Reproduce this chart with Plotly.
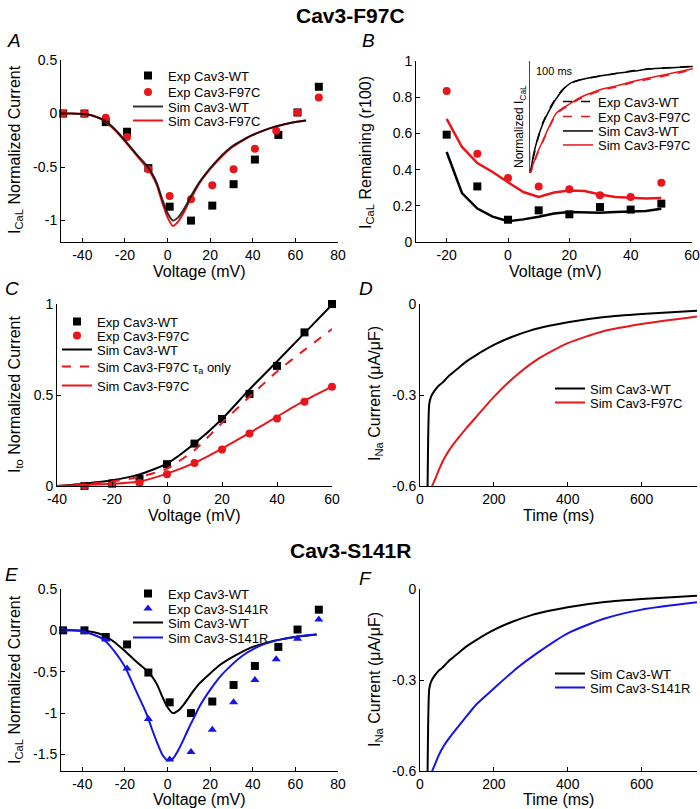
import plotly.graph_objects as go

W, H = 700, 809
FONT = "Liberation Sans, Arial, sans-serif"
RED = "#e8161b"
BLUE = "#1414e6"
BLACK = "#000000"

# ---------------- Panel A data ----------------
A_exp_v = [-49, -39, -29, -19, -9, 1, 11, 21, 31, 41, 52, 61, 71]
A_exp_wt = [0.0, 0.0, -0.08, -0.17, -0.51, -0.87, -1.0, -0.86, -0.66, -0.43, -0.20, 0.01, 0.25]
A_exp_f97c_v = [-49, -39, -29, -19, -9, 1, 11, 21, 31, 41, 51, 61, 71]
A_exp_f97c = [0.0, 0.0, -0.04, -0.22, -0.52, -0.77, -0.80, -0.67, -0.52, -0.33, -0.16, 0.01, 0.15]
A_sim_v = [-50, -45, -40, -35, -30, -25, -20, -15, -10, -7.5, -5, -2.5, 0, 2.5, 5, 7.5, 10, 12.5,
           15, 20, 25, 30, 35, 40, 45, 50, 55, 60, 65]
A_sim_wt = [0, 0, -0.005, -0.02, -0.06, -0.14, -0.25, -0.37, -0.48, -0.55, -0.65, -0.8, -0.93, -1.0,
            -0.97, -0.9, -0.81, -0.72, -0.64, -0.51, -0.4, -0.31, -0.25, -0.2, -0.16, -0.125, -0.1,
            -0.08, -0.065]
A_sim_f97c = [0, 0, -0.005, -0.02, -0.065, -0.15, -0.26, -0.38, -0.5, -0.57, -0.67, -0.83, -0.97,
              -1.05, -1.01, -0.93, -0.83, -0.74, -0.65, -0.52, -0.41, -0.32, -0.255, -0.2, -0.16,
              -0.125, -0.1, -0.08, -0.065]

# ---------------- Panel B data ----------------
B_v = [-20, -10, 0, 10, 20, 30, 40, 50]
B_exp_wt = [0.593, 0.307, 0.123, 0.175, 0.153, 0.193, 0.179, 0.212]
B_exp_f97c = [0.834, 0.488, 0.354, 0.307, 0.291, 0.258, 0.249, 0.328]
B_sim_v = [-20, -15, -10, -5, 0, 5, 10, 15, 20, 25, 30, 35, 40, 45, 50]
B_sim_wt = [0.497, 0.27, 0.185, 0.14, 0.115, 0.125, 0.14, 0.157, 0.166, 0.162, 0.162, 0.166,
            0.168, 0.171, 0.184]
B_sim_f97c = [0.68, 0.525, 0.436, 0.387, 0.33, 0.276, 0.249, 0.273, 0.285, 0.282, 0.263, 0.249,
              0.245, 0.241, 0.243]

# inset (normalized I_CaL traces)
INS_t = [0, 3, 10, 20, 33, 50, 64, 80, 98, 120, 145, 175, 210, 250, 288, 340, 390]
INS_sim_wt = [0, -1.0, -0.85, -0.70, -0.56, -0.43, -0.34, -0.26, -0.20, -0.17, -0.15, -0.13,
              -0.11, -0.09, -0.07, -0.06, -0.05]
INS_exp_wt = [0, -1.0, -0.87, -0.71, -0.55, -0.42, -0.33, -0.255, -0.20, -0.17, -0.15, -0.13,
              -0.11, -0.085, -0.07, -0.058, -0.048]
INS_sim_f97c = [0, -1.0, -0.92, -0.82, -0.71, -0.57, -0.47, -0.42, -0.38, -0.33, -0.29, -0.25,
                -0.22, -0.18, -0.15, -0.11, -0.07]
INS_exp_f97c = [0, -1.0, -0.93, -0.83, -0.72, -0.58, -0.48, -0.43, -0.39, -0.34, -0.30, -0.26,
                -0.23, -0.19, -0.16, -0.12, -0.08]
SCALE_BAR_MS = 100

# ---------------- Panel C data ----------------
C_v = [-30, -20, -10, 0, 10, 20, 30, 40, 50, 60]
C_exp_wt = [0.0, 0.013, 0.04, 0.12, 0.233, 0.368, 0.506, 0.66, 0.844, 1.0]
C_exp_f97c = [0.0, 0.017, 0.017, 0.064, 0.127, 0.2, 0.289, 0.371, 0.463, 0.546]
C_sim_v = [-40, -30, -20, -10, 0, 10, 20, 30, 40, 50, 60]
C_sim_wt = [0.0, 0.013, 0.031, 0.064, 0.123, 0.233, 0.368, 0.531, 0.684, 0.84, 0.996]
C_sim_f97c_tau = [0.0, 0.01, 0.025, 0.05, 0.096, 0.197, 0.347, 0.49, 0.629, 0.748, 0.862]
C_sim_f97c = [0.0, 0.005, 0.012, 0.025, 0.068, 0.127, 0.206, 0.292, 0.381, 0.469, 0.546]

# ---------------- Panel D / F data ----------------
D_t_wt = [20, 22, 25, 30, 40, 50, 60, 80, 100, 125, 150, 200, 250, 300, 350, 400, 500, 600, 750]
D_i_wt = [-0.65, -0.45, -0.33, -0.305, -0.285, -0.27, -0.26, -0.235, -0.215, -0.19, -0.17,
          -0.135, -0.108, -0.087, -0.072, -0.06, -0.043, -0.033, -0.022]
D_t_mut = [30, 33, 40, 50, 63, 80, 99, 125, 153, 200, 262, 316, 400, 496, 600, 750]
D_i_f97c = [-0.63, -0.6, -0.58, -0.55, -0.515, -0.48, -0.449, -0.41, -0.371, -0.306, -0.234,
            -0.184, -0.129, -0.09, -0.066, -0.041]
F_i_s141r = [-0.63, -0.6, -0.58, -0.55, -0.52, -0.49, -0.46, -0.421, -0.38, -0.328, -0.261,
             -0.212, -0.146, -0.099, -0.068, -0.044]

# ---------------- Panel E data ----------------
E_exp_s141r_v = [-49, -39, -29, -19, -9, 1, 11, 21, 31, 41, 51, 61, 71]
E_exp_s141r = [0.0, -0.02, -0.11, -0.46, -1.07, -1.56, -1.47, -1.2, -0.87, -0.6, -0.35, -0.1, 0.13]
E_sim_v = [-50, -45, -40, -35, -30, -25, -20, -15, -10, -7.5, -5, -2.5, 0, 2.5, 5, 7.5, 10, 12.5,
           15, 20, 25, 30, 35, 40, 45, 50, 55, 60, 65, 70]
E_sim_wt = [0, 0, -0.005, -0.02, -0.06, -0.14, -0.25, -0.37, -0.48, -0.55, -0.65, -0.8, -0.93,
            -1.0, -0.97, -0.9, -0.81, -0.72, -0.64, -0.52, -0.41, -0.33, -0.26, -0.2, -0.16,
            -0.125, -0.1, -0.08, -0.065, -0.05]
E_sim_s141r = [0, 0, -0.01, -0.05, -0.11, -0.25, -0.44, -0.72, -1.0, -1.18, -1.35, -1.5, -1.57,
               -1.55, -1.45, -1.32, -1.18, -1.05, -0.92, -0.72, -0.55, -0.42, -0.31, -0.23, -0.17,
               -0.13, -0.1, -0.08, -0.06, -0.05]

# tick labels
IV_xticks = [-40, -20, 0, 20, 40, 60, 80]
IV_xtext = ["-40", "-20", "0", "20", "40", "60", "80"]
A_yticks = [0.5, 0, -0.5, -1]
A_ytext = ["0.5", "0", "-0.5", "-1"]
B_xticks = [-20, 0, 20, 40, 60]
B_xtext = ["-20", "0", "20", "40", "60"]
B_yticks = [0, 0.2, 0.4, 0.6, 0.8, 1]
B_ytext = ["0", "0.2", "0.4", "0.6", "0.8", "1"]
C_xticks = [-40, -20, 0, 20, 40, 60]
C_xtext = ["-40", "-20", "0", "20", "40", "60"]
C_yticks = [0, 0.5, 1]
C_ytext = ["0", "0.5", "1"]
T_xticks = [0, 200, 400, 600]
T_xtext = ["0", "200", "400", "600"]
T_yticks = [0, -0.3, -0.6]
T_ytext = ["0", "-0.3", "-0.6"]
E_yticks = [0.5, 0, -0.5, -1, -1.5]
E_ytext = ["0.5", "0", "-0.5", "-1", "-1.5"]


def px_x(p):
    return p / W


def px_y(p):
    return 1 - p / H


def dom(x0, x1, y0, y1):
    return [px_x(x0), px_x(x1)], [px_y(y1), px_y(y0)]


fig = go.Figure()
layout = {}
LEGF = dict(family=FONT, size=13, color=BLACK)
_leg_count = [0]


def new_legend(xpx, ypx_center):
    """One single-entry legend per item so that entries sit at the reference spacing."""
    _leg_count[0] += 1
    n = _leg_count[0]
    key = "legend" if n == 1 else "legend%d" % n
    layout[key] = dict(x=px_x(xpx), y=px_y(ypx_center - 14.5), xanchor="left", yanchor="top",
                       bgcolor="rgba(0,0,0,0)", borderwidth=0, font=LEGF, tracegroupgap=0)
    return key


MS = 8


def mk(x, y, name, xa, ya, leg=None, color=BLACK, symbol="square"):
    fig.add_trace(go.Scatter(x=x, y=y, mode="markers", name=name, xaxis=xa, yaxis=ya,
                             legend=leg if leg else "legend", showlegend=leg is not None,
                             cliponaxis=False,
                             marker=dict(symbol=symbol, size=MS, color=color, line=dict(width=0))))


def ln(x, y, name, xa, ya, leg=None, color=BLACK, dash="solid", width=2, opacity=1.0,
       smooth=False, clip=True):
    line = dict(color=color, width=width, dash=dash)
    if smooth:
        line.update(shape="spline", smoothing=0.6)
    fig.add_trace(go.Scatter(x=x, y=y, mode="lines", name=name, xaxis=xa, yaxis=ya,
                             legend=leg if leg else "legend", showlegend=leg is not None,
                             opacity=opacity, line=line, cliponaxis=clip))


# Panel A
mk(A_exp_v, A_exp_wt, "Exp Cav3-WT", "x", "y", new_legend(128, 75))
mk(A_exp_f97c_v, A_exp_f97c, "Exp Cav3-F97C", "x", "y", new_legend(128, 91.5), color=RED,
   symbol="circle")
leg_a3 = new_legend(128, 106)
leg_a4 = new_legend(128, 120)
ln(A_sim_v, A_sim_f97c, "Sim Cav3-F97C", "x", "y", leg_a4, color=RED, smooth=True)
ln(A_sim_v, A_sim_wt, "Sim Cav3-WT", "x", "y", leg_a3, opacity=0.8, smooth=True)

# Panel B
mk(B_v, B_exp_wt, "Exp Cav3-WT", "x2", "y2")
mk(B_v, B_exp_f97c, "Exp Cav3-F97C", "x2", "y2", color=RED, symbol="circle")
ln(B_sim_v, B_sim_wt, "Sim Cav3-WT", "x2", "y2", width=2.5)
ln(B_sim_v, B_sim_f97c, "Sim Cav3-F97C", "x2", "y2", color=RED, width=2.5)

# Inset
ln(INS_t, INS_exp_wt, "Exp Cav3-WT", "x7", "y7", new_legend(558, 101), dash="dash", width=1.5,
   smooth=True, clip=False)
ln(INS_t, INS_exp_f97c, "Exp Cav3-F97C", "x7", "y7", new_legend(558, 116), color=RED, dash="dash",
   width=1.5, smooth=True, clip=False)
ln(INS_t, INS_sim_wt, "Sim Cav3-WT", "x7", "y7", new_legend(558, 130.5), width=1.5, smooth=True,
   clip=False)
ln(INS_t, INS_sim_f97c, "Sim Cav3-F97C", "x7", "y7", new_legend(558, 144.5), color=RED, width=1.5,
   smooth=True, clip=False)

# Panel C
mk(C_v, C_exp_wt, "Exp Cav3-WT", "x3", "y3", new_legend(57, 321))
mk(C_v, C_exp_f97c, "Exp Cav3-F97C", "x3", "y3", new_legend(57, 335), color=RED, symbol="circle")
ln(C_sim_v, C_sim_wt, "Sim Cav3-WT", "x3", "y3", new_legend(57, 349), smooth=True)
ln(C_sim_v, C_sim_f97c_tau, "Sim Cav3-F97C τ<sub>a</sub> only", "x3", "y3", new_legend(57, 366),
   color=RED, dash="dash", smooth=True)
ln(C_sim_v, C_sim_f97c, "Sim Cav3-F97C", "x3", "y3", new_legend(57, 385), color=RED, smooth=True)

# Panel D
ln(D_t_wt, D_i_wt, "Sim Cav3-WT", "x4", "y4", new_legend(550, 388), smooth=True)
ln(D_t_mut, D_i_f97c, "Sim Cav3-F97C", "x4", "y4", new_legend(550, 402), color=RED, smooth=True)

# Panel E
mk(A_exp_v, A_exp_wt, "Exp Cav3-WT", "x5", "y5", new_legend(128, 593))
mk(E_exp_s141r_v, E_exp_s141r, "Exp Cav3-S141R", "x5", "y5", new_legend(128, 608), color=BLUE,
   symbol="triangle-up")
ln(E_sim_v, E_sim_wt, "Sim Cav3-WT", "x5", "y5", new_legend(128, 622), smooth=True)
ln(E_sim_v, E_sim_s141r, "Sim Cav3-S141R", "x5", "y5", new_legend(128, 637), color=BLUE,
   smooth=True)

# Panel F
ln(D_t_wt, D_i_wt, "Sim Cav3-WT", "x6", "y6", new_legend(550, 673), smooth=True)
ln(D_t_mut, F_i_s141r, "Sim Cav3-S141R", "x6", "y6", new_legend(550, 687), color=BLUE,
   smooth=True)

TICKF = dict(family=FONT, size=14, color=BLACK)


def axis(domain, rng, tv, tt, anchor):
    return dict(domain=domain, range=rng, tickvals=tv, ticktext=tt, showline=True,
                linecolor=BLACK, linewidth=1, ticks="inside", ticklen=4, tickcolor=BLACK,
                showgrid=False, zeroline=False, tickfont=TICKF, anchor=anchor, automargin=False)


dA = dom(61, 338, 60, 242)
dB = dom(416, 692, 61, 242)
dC = dom(57, 332, 304, 486)
dD = dom(420, 697, 304, 486)
dE = dom(61, 338, 589, 771)
dF = dom(420, 697, 589, 771)
dI = dom(529, 697, 61, 173)

layout["xaxis"] = axis(dA[0], [-50, 80], IV_xticks, IV_xtext, "y")
layout["yaxis"] = axis(dA[1], [-1.2, 0.5], A_yticks, A_ytext, "x")
layout["xaxis2"] = axis(dB[0], [-30, 60], B_xticks, B_xtext, "y2")
layout["yaxis2"] = axis(dB[1], [0, 1], B_yticks, B_ytext, "x2")
layout["xaxis3"] = axis(dC[0], [-40, 60], C_xticks, C_xtext, "y3")
layout["yaxis3"] = axis(dC[1], [0, 1], C_yticks, C_ytext, "x3")
layout["xaxis4"] = axis(dD[0], [0, 750], T_xticks, T_xtext, "y4")
layout["yaxis4"] = axis(dD[1], [-0.6, 0], T_yticks, T_ytext, "x4")
layout["xaxis5"] = axis(dE[0], [-50, 80], IV_xticks, IV_xtext, "y5")
layout["yaxis5"] = axis(dE[1], [-1.7, 0.5], E_yticks, E_ytext, "x5")
layout["xaxis6"] = axis(dF[0], [0, 750], T_xticks, T_xtext, "y6")
layout["yaxis6"] = axis(dF[1], [-0.6, 0], T_yticks, T_ytext, "x6")
layout["xaxis7"] = dict(domain=dI[0], range=[0, 400], visible=False, anchor="y7", automargin=False)
layout["yaxis7"] = dict(domain=dI[1], range=[-1, 0], visible=False, anchor="x7", automargin=False)

annotations = []


def ann(text, xpx, ypx, size, xanchor="center", **kw):
    annotations.append(dict(text=text, x=px_x(xpx), y=px_y(ypx), xref="paper", yref="paper",
                            xanchor=xanchor, yanchor="middle", showarrow=False,
                            font=dict(family=FONT, size=size, color=BLACK), **kw))


ann("<b>Cav3-F97C</b>", 350, 16, 21)
ann("<b>Cav3-S141R</b>", 350, 550, 21)
for letter, xx, yy in [("A", 5, 40), ("B", 360, 40), ("C", 3, 288), ("D", 357, 288),
                       ("E", 3, 574), ("F", 357, 578)]:
    ann("<i>%s</i>" % letter, xx, yy, 19, xanchor="left")

# axis titles
VOLT = "Voltage (mV)"
TIME = "Time (ms)"
for txt, xx, yy in [(VOLT, 199, 271), (VOLT, 555, 271), (VOLT, 194, 515), (TIME, 558, 515),
                    (VOLT, 199, 799), (TIME, 558, 799)]:
    ann(txt, xx, yy, 16)
Y_CAL = "I<sub>CaL</sub> Normalized Current"
Y_NA = "I<sub>Na</sub> Current (μA/μF)"
for txt, xx, yy in [(Y_CAL, 15, 150), ("I<sub>CaL</sub> Remaining (r100)", 367, 152),
                    ("I<sub>to</sub> Normalized Current", 15, 394), (Y_NA, 375, 394),
                    (Y_CAL, 15, 680), (Y_NA, 375, 680)]:
    ann(txt, xx, yy, 16, textangle=-90)

ann("Normalized I<sub>CaL</sub>", 520, 127, 12, textangle=-90)
annotations.append(dict(text="100 ms", x=12, y=-0.02, xref="x7", yref="y7", xanchor="left",
                        yanchor="top", showarrow=False,
                        font=dict(family=FONT, size=11, color=BLACK)))

shapes = [dict(type="line", xref="x7", yref="y7", x0=0, x1=SCALE_BAR_MS, y0=0.01, y1=0.01,
               line=dict(color=BLACK, width=1))]

fig.update_layout(width=W, height=H, margin=dict(l=0, r=0, t=0, b=0, autoexpand=False),
                  paper_bgcolor="white", plot_bgcolor="white",
                  font=dict(family=FONT, color=BLACK), annotations=annotations, shapes=shapes,
                  **layout)

fig.write_html("out.html", config={"displayModeBar": False},
               post_script="document.body.style.margin='0px';document.body.style.overflow='hidden';")
